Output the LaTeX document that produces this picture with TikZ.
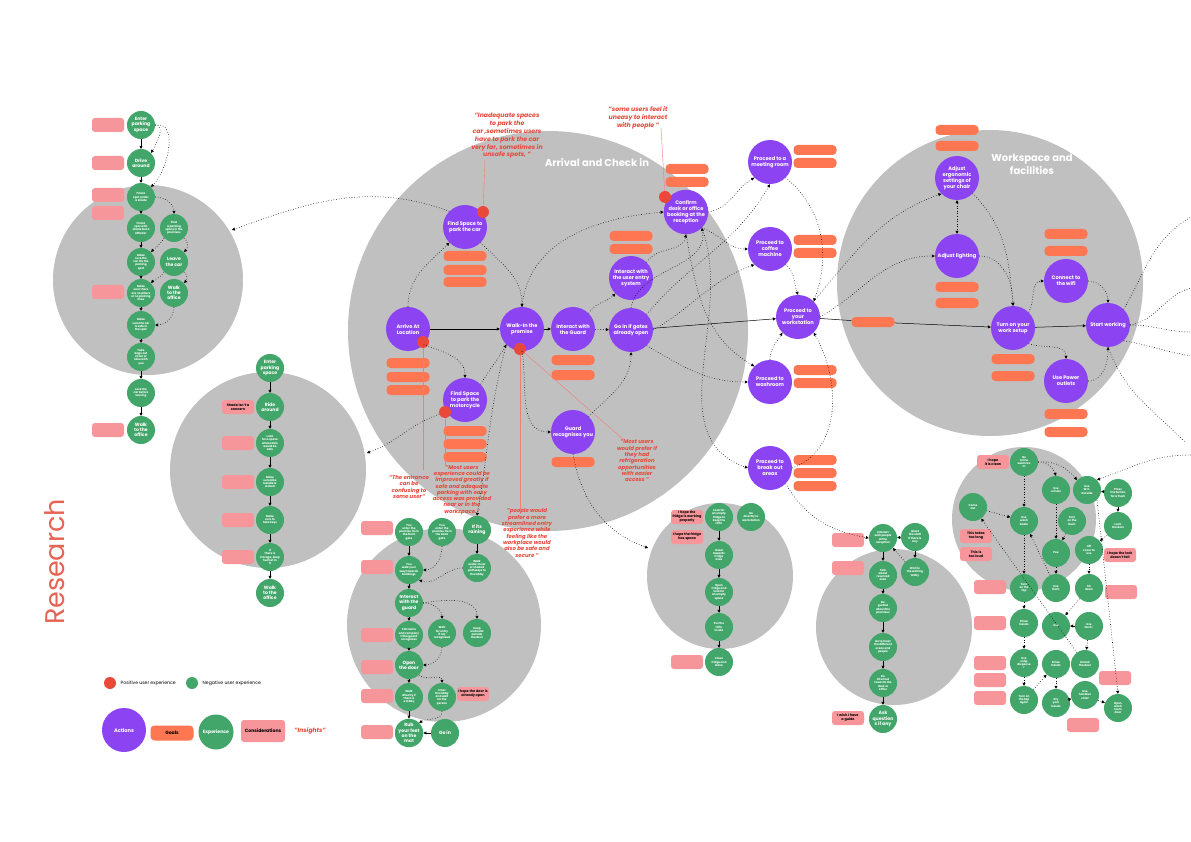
\documentclass[tikz,border=0pt]{standalone}
\usepackage{fontspec}
\setmainfont{Poppins}
\usepackage{tikz}
\usetikzlibrary{arrows.meta,positioning,calc}
\definecolor{zonegray}{RGB}{192,192,192}
\definecolor{actpurple}{RGB}{140,68,242}
\definecolor{expgreen}{RGB}{66,166,106}
\definecolor{goalorange}{RGB}{255,118,82}
\definecolor{conspink}{RGB}{246,150,155}
\definecolor{posred}{RGB}{234,72,56}
\definecolor{insred}{RGB}{232,72,58}
\definecolor{titlered}{RGB}{230,100,84}
\tikzset{
  zone/.style={fill=zonegray},
  actnode/.style={circle, fill=actpurple, text=white, minimum size=44pt, inner sep=0pt, align=center, font=\fontsize{5.1}{6}\selectfont\bfseries},
  expnode/.style={circle, fill=expgreen, text=white, minimum size=28pt, inner sep=0pt, align=center, font=\fontsize{4.6}{5.2}\selectfont\bfseries},
  expsmall/.style={expnode, font=\fontsize{2.8}{3.3}\selectfont\bfseries},
  goalbox/.style={rounded corners=4pt, fill=goalorange, minimum width=43pt, minimum height=10pt, inner sep=0pt},
  consbox/.style={rounded corners=3pt, fill=conspink, minimum width=32pt, minimum height=14pt, inner sep=0pt, align=center, font=\fontsize{3.4}{4}\selectfont\bfseries},
  posdot/.style={circle, fill=posred, minimum size=12pt, inner sep=0pt},
  insight/.style={text=insred, align=center, font=\fontsize{5.4}{6.3}\selectfont\bfseries\itshape},
  zonetitle/.style={text=white, align=center, font=\fontsize{10}{13}\selectfont\bfseries},
  flow/.style={line width=0.5pt, -{Triangle[length=3pt,width=3pt]}},
  maybe/.style={line width=0.6pt, dotted, -{Triangle[length=3pt,width=3pt]}},
  tieline/.style={draw=insred!70, line width=0.4pt}
}

\begin{document}
\begin{tikzpicture}[x=1pt, y=-1pt]
\fill[white] (0,0) rectangle (1191,842);
\useasboundingbox (0,0) rectangle (1191,842);

\fill[zone] (148,280) circle[radius=95pt];
\fill[zone] (268,470) circle[radius=98pt];
\fill[zone] (548,331) circle[radius=200pt];
\fill[zone] (990,283) circle[radius=153pt];
\fill[zone] (444,625) circle[radius=97pt];
\fill[zone] (720,576) circle[radius=73pt];
\fill[zone] (894,627) circle[radius=78pt];
\fill[zone] (1024,519) circle[radius=72pt];

\node[zonetitle] (arrtitle) at (597,163) {Arrival and Check in};
\node[zonetitle] (worktitle) at (1032,164) {Workspace and\\facilities};
\node[rotate=90, text=titlered, font=\fontsize{27}{27}\selectfont] (research) at (55,562) {Research};

\node[insight, font=\fontsize{6.2}{7.8}\selectfont\bfseries\itshape] (ins1) at (507,136) {\textquotedblright Inadequate spaces\\to park the\\car ,sometimes users\\have to park the car\\very far, sometimes in\\unsafe spots, \textquotedblright};
\node[insight, font=\fontsize{6.2}{7.8}\selectfont\bfseries\itshape] (ins2) at (638,118) {\textquotedblright some users feel it\\uneasy to interact\\with people \textquotedblright};
\node[insight] (ins3) at (409,487) {\textquotedblright The entrance\\can be\\confusing to\\some user\textquotedblright};
\node[insight] (ins4) at (462,490) {\textquotedblright Most users\\experience could be\\improved greatly if\\safe and adequate\\parking with easy\\access was provided\\near or in the\\workspace.\textquotedblright};
\node[insight] (ins5) at (527,533) {\textquotedblright people would\\prefer a more\\streamlined entry\\experience while\\feeling like the\\workplace would\\also be safe and\\secure \textquotedblright};
\node[insight] (ins6) at (637,461) {\textquotedblright Most users\\would prefer if\\they had\\refrigeration\\opportunities\\with easier\\access \textquotedblright};

\node[actnode] (arrive) at (408,329) {Arrive At\\Location};
\node[actnode] (carspace) at (465,227) {Find Space to\\park the car};
\node[actnode] (walkin) at (522,329) {Walk-In the\\premise};
\node[actnode] (guard) at (573,329) {Interact with\\the Guard};
\node[actnode] (gatesopen) at (631,330) {Go in if gates\\already open};
\node[actnode] (entrysys) at (631,278) {Interact with\\the user entry\\system};
\node[actnode] (confirm) at (686,212) {Confirm\\desk or office\\booking at the\\reception};
\node[actnode] (bikespace) at (465,400) {Find Space\\to park the\\motorcycle};
\node[actnode] (recognise) at (573,432) {Guard\\recognises you};
\node[actnode] (meeting) at (770,162) {Proceed to a\\meeting room};
\node[actnode] (coffee) at (770,249) {Proceed to\\coffee\\machine};
\node[actnode] (workstation) at (798,317) {Proceed to\\your\\workstation};
\node[actnode] (washroom) at (770,382) {Proceed to\\washroom};
\node[actnode] (breakout) at (770,468) {Proceed to\\break out\\areas};
\node[actnode] (chair) at (957,178) {Adjust\\ergonomic\\settings of\\your chair};
\node[actnode] (lighting) at (957,256) {Adjust lighting};
\node[actnode] (setup) at (1013,328) {Turn on your\\work setup};
\node[actnode] (wifi) at (1066,281) {Connect to\\the wifi};
\node[actnode] (working) at (1108,325) {Start working};
\node[actnode] (power) at (1066,381) {Use Power\\outlets};

\node[posdot] (dcar) at (483,212) {};
\node[posdot] (darrive) at (423,342) {};
\node[posdot] (dwalkin) at (520,349) {};
\node[posdot] (dbike) at (445,412) {};
\node[posdot] (dconfirm) at (665,197) {};

\foreach \p [count=\i] in {(465,256),(465,270),(465,282),(408,363),(408,377),(408,390),
  (465,431),(465,444),(465,457),(573,360),(573,375),(573,462),(631,236),(631,249),
  (687,169),(687,182),(815,150),(815,163),(815,240),(815,253),(815,370),(815,383),
  (815,460),(815,473),(815,486),(873,322),(957,130),(957,146),(957,287),(957,303),
  (1066,234),(1066,251),(1013,359),(1013,376),(1066,414),(1066,432)}
  \node[goalbox] (g\i) at \p {};

\foreach \x/\y/\t [count=\i] in {108/125/{},108/163/{},108/195/{},108/213/{},108/292/{},108/430/{},
  238/407/{Shade isn't a\\concern},238/443/{},238/482/{},238/520/{},238/557/{},
  377/528/{},377/567/{},377/635/{},377/667/{},377/696/{},377/732/{},473/694/{I hope the door is\\already open},
  687/517/{I hope the\\fridge is working\\properly},687/537/{I hope the fridge\\has space},687/662/{},
  848/540/{},848/568/{},848/718/{I wish I have\\a guide},
  993/462/{I hope\\it is clean},976/536/{This takes\\too long},976/554/{This is\\too loud},
  990/587/{},990/623/{},990/663/{},990/680/{},990/698/{},
  1120/555/{I hope the lock\\doesn't fail},1121/592/{},1115/678/{},1083/725/{}}
  \node[consbox] (c\i) at (\x,\y) {\t};

\node[expnode] (a1) at (141,125) {Enter\\parking\\space};
\node[expnode] (a2) at (141,163) {Drive\\around};
\node[expsmall] (a3) at (141,197) {Find a\\spot under\\a shade};
\node[expsmall] (a4) at (141,228) {Find a\\spot with\\shade but a\\little far};
\node[expsmall] (a5) at (174,228) {Find\\a parking\\space in the\\premises};
\node[expsmall] (a6) at (141,262) {Make\\sure the\\car fits the\\parking\\spot};
\node[expnode] (a7) at (174,262) {Leave\\the car};
\node[expsmall] (a8) at (141,293) {Make\\sure there\\are no pillars\\or no parking\\lines};
\node[expnode] (a9) at (174,293) {Walk\\to the\\office};
\node[expsmall] (a10) at (141,325) {Make\\sure the car\\is safe in\\the spot};
\node[expsmall] (a11) at (141,357) {Take\\bags out\\of car or\\take with\\you};
\node[expsmall] (a12) at (141,393) {Lock the\\car before\\leaving};
\node[expnode] (a13) at (141,430) {Walk\\to the\\office};

\node[expnode] (b1) at (270,368) {Enter\\parking\\space};
\node[expnode] (b2) at (270,407) {Ride\\around};
\node[expsmall] (b3) at (270,443) {Look\\for a space\\where bike\\would be\\safe};
\node[expsmall] (b4) at (270,482) {Make\\sure bike\\handle is\\locked};
\node[expsmall] (b5) at (270,520) {Make\\sure to\\take keys};
\node[expsmall] (b6) at (270,557) {If\\there is\\storage, keep\\helmet in\\it};
\node[expnode] (b7) at (270,593) {Walk\\to the\\office};

\node[expsmall] (d1) at (409,532) {You\\enter the\\premise from\\the front\\gate};
\node[expsmall] (d2) at (442,532) {You\\enter the\\premise from\\the back\\gate};
\node[expnode] (d3) at (477,530) {If its\\raining};
\node[expsmall] (d4) at (409,570) {You\\walk your\\way towards\\buildings};
\node[expsmall] (d5) at (477,568) {Walk\\under cover\\or shaded\\pathways to\\the lobby};
\node[expnode] (d6) at (409,603) {Interact\\with the\\guard};
\node[expsmall] (d7) at (409,635) {Tell name\\and company\\if the guard\\recognizes};
\node[expsmall] (d8) at (442,633) {Wait\\for entry\\if not\\recognised};
\node[expsmall] (d9) at (477,633) {Keep\\umbrella\\outside\\the door};
\node[expnode] (d10) at (409,665) {Open\\the door};
\node[expsmall] (d11) at (409,697) {Walk\\directly if\\there is\\a lobby};
\node[expsmall] (d12) at (442,697) {Enter\\the lobby\\and wait\\for the\\person};
\node[expnode] (d13) at (409,733) {Rub\\your feet\\on the\\mat};
\node[expnode] (d14) at (445,733) {Go in};

\node[expsmall] (f1) at (719,517) {Look for\\an empty\\fridge to\\keep the\\tiffin};
\node[expsmall] (f2) at (751,517) {Go\\directly to\\workstation};
\node[expsmall] (f3) at (719,555) {Head\\towards\\fridge\\area};
\node[expsmall] (f4) at (719,592) {Open\\fridge and\\look for\\an empty\\space};
\node[expsmall] (f5) at (719,627) {Put the\\tiffin\\inside};
\node[expsmall] (f6) at (719,662) {Close\\fridge and\\leave};

\node[expsmall] (m1) at (883,538) {Interact\\with people\\at the\\reception};
\node[expsmall] (m2) at (915,537) {Greet\\the staff\\if there is\\any};
\node[expsmall] (m3) at (883,575) {Talk\\about\\reserved\\area};
\node[expsmall] (m4) at (915,572) {Wait in\\the waiting\\lobby};
\node[expsmall] (m5) at (883,608) {Be\\guided\\about the\\premises};
\node[expsmall] (m6) at (883,647) {Go to meet\\the different\\areas and\\people};
\node[expsmall] (m7) at (883,683) {Be\\directed\\towards the\\desk or\\office};
\node[expnode] (m8) at (883,719) {Ask\\question\\s if any};

\node[expsmall] (w1) at (1024,462) {Go\\to the\\washroo\\m};
\node[expsmall] (w2) at (1056,490) {Use\\urinals};
\node[expsmall] (w3) at (1087,490) {Use\\W.C.\\Outside};
\node[expsmall] (w4) at (1118,493) {Press\\the button\\for a flush};
\node[expsmall] (w5) at (973,507) {Come\\out};
\node[expsmall] (w6) at (1024,521) {Use\\wash\\basin};
\node[expsmall] (w7) at (1072,521) {Turn\\on the\\flush};
\node[expsmall] (w8) at (1118,526) {Lock\\the door};
\node[expsmall] (w9) at (1056,553) {Pee};
\node[expsmall] (w10) at (1089,550) {Lift\\cover to\\use};
\node[expsmall] (w11) at (1024,588) {Turn\\on the\\tap};
\node[expsmall] (w12) at (1056,588) {Use\\flush};
\node[expsmall] (w13) at (1089,588) {Sit\\down};
\node[expsmall] (w14) at (1024,623) {Rinse\\hands};
\node[expsmall] (w15) at (1056,626) {Use};
\node[expsmall] (w16) at (1089,626) {Use\\flush-};
\node[expsmall] (w17) at (1024,663) {Use\\soap\\dispense\\r};
\node[expsmall] (w18) at (1056,664) {Rinse\\hands};
\node[expsmall] (w19) at (1085,664) {Unlock\\the door};
\node[expsmall] (w20) at (1024,700) {Turn on\\the tap\\again};
\node[expsmall] (w21) at (1056,703) {Dry\\your\\hands};
\node[expsmall] (w22) at (1085,695) {Use\\handker\\chief};
\node[expsmall] (w23) at (1118,708) {Open\\wash\\room\\door};

\coordinate (parkin) at (232,230);
\coordinate (bikein) at (367,453);
\coordinate (fridgein) at (648,548);
\coordinate (out1) at (1191,217);
\coordinate (out2) at (1191,288);
\coordinate (out3) at (1191,332);
\coordinate (out4) at (1191,356);
\coordinate (out5) at (1185,442);
\coordinate (rightin) at (1191,455);
\coordinate (ins1foot) at (485,160);
\coordinate (ins2foot) at (661,128);
\coordinate (ins3top) at (425,470);
\coordinate (ins4top) at (445,466);
\coordinate (ins5top) at (520,510);
\coordinate (ins6top) at (625,441);

\draw[tieline] (ins1foot) -- (dcar);
\draw[tieline] (ins2foot) -- (dconfirm);
\draw[tieline] (darrive) -- (darrive |- ins3top);
\draw[tieline] (dbike) -- (dbike |- ins4top);
\draw[tieline] (dwalkin) -- (dwalkin |- ins5top);
\draw[tieline] (dwalkin) -- (ins6top);

\draw[flow] (arrive) -- (walkin);
\draw[flow] (walkin) -- (guard);
\draw[maybe] (guard) -- (gatesopen);
\draw[flow] (gatesopen) -- (workstation);
\draw[line width=0.5pt] (workstation) -- (g26);
\draw[flow] (g26) -- (setup);
\draw[flow] (setup) -- (working);

\draw[maybe] (arrive.north) to[out=90,in=225] (carspace.south west);
\draw[maybe] (carspace.south east) to[out=-45,in=90] (walkin.north);
\draw[maybe] (arrive.south east) to[out=-20,in=90] (bikespace.north);
\draw[maybe] (bikespace.north east) to[out=60,in=-120] (walkin.south west);
\draw[maybe] (carspace.north west) to[out=160,in=20] (parkin);
\draw[maybe] (dbike) to[out=200,in=20] (bikein);
\draw[maybe] (walkin.south west) to[out=-105,in=80] (d3.north);
\draw[maybe] (walkin.south) to[out=-80,in=180] (recognise.west);
\draw[maybe] (walkin.north) to[out=85,in=185] (confirm.west);
\draw[maybe] (guard.north east) to[out=60,in=225] (entrysys.south west);
\draw[maybe] (entrysys.north east) to[out=60,in=-100] (confirm.south);
\draw[maybe] (gatesopen.north) to[out=80,in=-80] (confirm.south east);
\draw[maybe] (confirm.east) to[out=10,in=210] (meeting.south west);
\draw[maybe] (confirm.south east) to[out=-20,in=180] (coffee.west);
\draw[maybe] (gatesopen.north east) to[out=50,in=240] (meeting.south);
\draw[maybe] (gatesopen.east) to[out=30,in=200] (coffee.south west);
\draw[maybe] (confirm.south) to[out=-80,in=150] (washroom.north west);
\draw[maybe] (gatesopen.south east) to[out=-30,in=180] (washroom.west);
\draw[maybe] (confirm.south east) to[out=-70,in=160] (breakout.west);
\draw[maybe] (recognise.north east) to[out=45,in=-90] (gatesopen.south);
\draw[maybe] (recognise.south) to[out=-80,in=160] (fridgein);
\draw[maybe] (meeting.south east) to[out=-40,in=70] (workstation.north east);
\draw[maybe] (coffee.south east) to[out=-40,in=110] (workstation.north);
\draw[maybe] (washroom.north) to[out=90,in=-120] (workstation.south west);
\draw[maybe] (breakout.east) to[out=20,in=-60] (workstation.south east);
\draw[maybe] (breakout.south east) to[out=-60,in=170] (m1.west);
\draw[maybe] (workstation.north east) to[out=50,in=200] (chair.south west);
\draw[maybe] (workstation.east) to[out=30,in=180] (lighting.west);
\draw[line width=0.6pt, dotted, {Triangle[length=3pt,width=3pt]}-{Triangle[length=3pt,width=3pt]}] (chair) -- (lighting);
\draw[maybe] (chair.south east) to[out=-45,in=95] (setup.north);
\draw[maybe] (lighting.east) to[out=0,in=90] (setup.north);
\draw[maybe] (setup.north east) to[out=60,in=180] (wifi.west);
\draw[maybe] (wifi.east) to[out=0,in=90] (working.north);
\draw[maybe] (setup.south east) to[out=-20,in=90] (power.north);
\draw[maybe] (power.east) to[out=0,in=-90] (working.south);
\draw[line width=0.6pt, dotted] (working.north east) to[out=60,in=210] (out1);
\draw[line width=0.6pt, dotted] (working.east) to[out=10,in=195] (out2);
\draw[line width=0.6pt, dotted] (working.east) to[out=0,in=180] (out3);
\draw[line width=0.6pt, dotted] (working.south east) to[out=-10,in=170] (out4);
\draw[line width=0.6pt, dotted] (working.south) to[out=-70,in=135] (out5);
\draw[maybe] (rightin) to[out=180,in=20] (w3.north east);

\foreach \p/\q in {a1/a2,a2/a3,a3/a4,a4/a6,a6/a8,a8/a10,a10/a11,a11/a12,a12/a13}
  \draw[flow] (\p) -- (\q);
\draw[maybe] (a1.east) to[out=0,in=60] (a2.north east);
\draw[maybe] (a1.east) to[out=10,in=45] (a3.north east);
\draw[maybe] (a3.east) to[out=0,in=90] (a5.north);
\draw[maybe] (a5.south west) to[out=-120,in=45] (a6.north east);
\draw[maybe] (a5.south east) to[out=-30,in=45] (a7.north east);
\draw[maybe] (a7.south west) to[out=-120,in=45] (a8.north east);
\draw[maybe] (a7.south east) to[out=-30,in=45] (a9.north east);
\draw[maybe] (a9.south) to[out=-90,in=0] (a10.east);

\foreach \p/\q in {b1/b2,b2/b3,b3/b4,b4/b5,b5/b6,b6/b7}
  \draw[flow] (\p) -- (\q);

\foreach \p/\q in {d1/d4,d3/d5,d4/d6,d6/d7,d7/d10,d10/d11,d11/d13,d14/d13}
  \draw[flow] (\p) -- (\q);
\draw[maybe] (d2.south) to[out=-90,in=0] (d4.east);
\draw[maybe] (d5.west) to[out=180,in=-20] (d4.south east);
\draw[maybe] (d6.east) to[out=0,in=90] (d8.north);
\draw[maybe] (d6.east) to[out=10,in=90] (d9.north);
\draw[maybe] (d8.south) to[out=-90,in=0] (d10.east);
\draw[maybe] (d10.south east) to[out=-45,in=90] (d12.north);
\draw[maybe] (d12.south) to[out=-90,in=30] (d13.north east);

\foreach \p/\q in {f1/f3,f3/f4,f4/f5,f5/f6}
  \draw[flow] (\p) -- (\q);

\foreach \p/\q in {m2/m1,m1/m3,m2/m4,m3/m5,m5/m6,m6/m7,m7/m8}
  \draw[flow] (\p) -- (\q);
\draw[maybe] (m4.north west) -- (m1.south east);

\foreach \p/\q in {w1/w6,w6/w11,w2/w9,w7/w9,w5/w6,w9/w12,w8/w10,w10/w13,w13/w15,w16/w19,w11/w14,w14/w17,w17/w20,w20/w18,w18/w21,w21/w22,w22/w23,w12/w6,w19/w5}
  \draw[maybe] (\p) -- (\q);
\draw[maybe] (w1.east) to[out=0,in=110] (w2.north);
\draw[maybe] (w1.east) to[out=5,in=130] (w3.north west);
\draw[maybe] (w3.south east) -- (w23.north);
\draw[flow] (w4) -- (w3);
\draw[flow] (w4) -- (w8);
\draw[flow] (w16) -- (w15);

\node[posdot] (lgpos) at (110,683) {};
\node[right=1pt of lgpos, font=\fontsize{4.6}{5}\selectfont] (lgpostext) {Positive user experience};
\node[circle, fill=expgreen, minimum size=12pt, inner sep=0pt] (lgneg) at (192,683) {};
\node[right=1pt of lgneg, font=\fontsize{4.6}{5}\selectfont] (lgnegtext) {Negative user experience};
\node[actnode] (lgact) at (124,730) {Actions};
\node[goalbox, minimum height=15pt, font=\fontsize{4.6}{5}\selectfont\bfseries] (lggoal) at (172,733) {Goals};
\node[expnode, minimum size=35pt, font=\fontsize{4.6}{5}\selectfont\bfseries] (lgexp) at (216,732) {Experience};
\node[consbox, minimum width=44pt, minimum height=22pt, font=\fontsize{4.6}{5}\selectfont\bfseries] (lgcons) at (263,731) {Considerations};
\node[insight, font=\fontsize{6}{7}\selectfont\bfseries\itshape] (lgins) at (310,731) {\textquotedblright Insights\textquotedblright};
\end{tikzpicture}
\end{document}
